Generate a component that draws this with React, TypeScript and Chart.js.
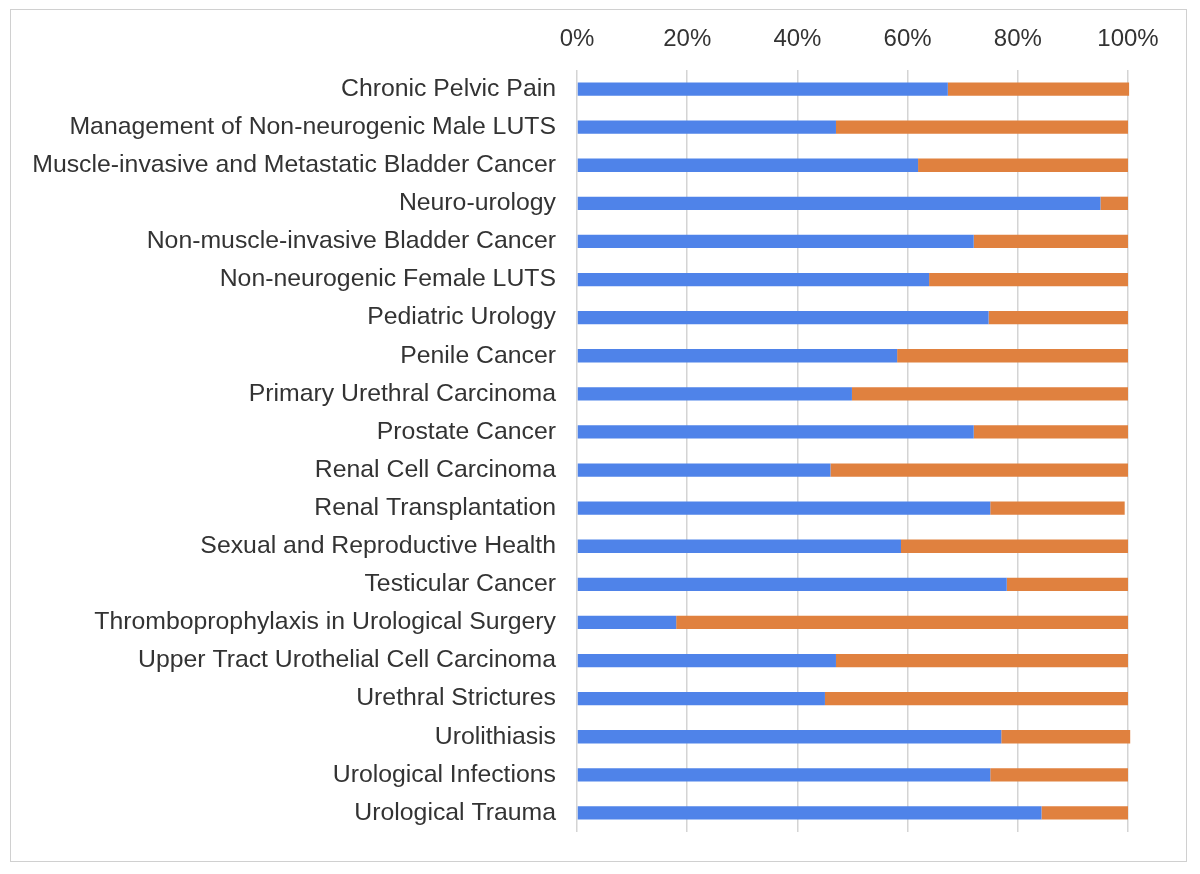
import React, { useEffect, useRef } from "react";
import { Chart, registerables } from "chart.js";

Chart.register(...registerables);

const categories = [
  "Chronic Pelvic Pain",
  "Management of Non-neurogenic Male LUTS",
  "Muscle-invasive and Metastatic Bladder Cancer",
  "Neuro-urology",
  "Non-muscle-invasive Bladder Cancer",
  "Non-neurogenic Female LUTS",
  "Pediatric Urology",
  "Penile Cancer",
  "Primary Urethral Carcinoma",
  "Prostate Cancer",
  "Renal Cell Carcinoma",
  "Renal Transplantation",
  "Sexual and Reproductive Health",
  "Testicular Cancer",
  "Thromboprophylaxis in Urological Surgery",
  "Upper Tract Urothelial Cell Carcinoma",
  "Urethral Strictures",
  "Urolithiasis",
  "Urological Infections",
  "Urological Trauma",
];

const blueValues = [67.3, 47, 61.9, 95, 72, 63.9, 74.7, 58.1, 49.9, 72, 46, 75, 58.8, 78, 18, 47, 45, 77, 75, 84.3];
const orangeValues = [32.9, 53, 38.1, 5, 28, 36.1, 25.3, 41.9, 50.1, 28, 54, 24.4, 41.2, 22, 82, 53, 55, 23.4, 25, 15.7];

const tickLabelsPct = ["0%", "20%", "40%", "60%", "80%", "100%"];

const BLUE = "#4f83e9";
const ORANGE = "#e0813f";
const TEXT = "#333333";
const FONT = "'Liberation Sans', Arial, sans-serif";

export default function App() {
  const ref = useRef<HTMLCanvasElement | null>(null);

  useEffect(() => {
    if (!ref.current) return;
    const chart = new Chart(ref.current, {
      type: "bar",
      data: {
        labels: categories,
        datasets: [
          {
            label: "A",
            data: blueValues,
            backgroundColor: BLUE,
            barPercentage: 0.35,
            categoryPercentage: 1,
            clip: false as any,
          },
          {
            label: "B",
            data: orangeValues,
            backgroundColor: ORANGE,
            barPercentage: 0.35,
            categoryPercentage: 1,
            clip: false as any,
          },
        ],
      },
      options: {
        indexAxis: "y",
        responsive: false,
        animation: false,
        devicePixelRatio: 1,
        layout: { padding: { left: 0, right: 72, top: 0, bottom: 42 } },
        plugins: { legend: { display: false }, tooltip: { enabled: false } },
        scales: {
          x: {
            position: "top",
            stacked: true,
            min: 0,
            max: 100,
            border: { display: false },
            grid: { color: "#d4d4d4", lineWidth: 1.5, drawTicks: false },
            ticks: {
              stepSize: 20,
              padding: 16,
              color: TEXT,
              font: { family: FONT, size: 24 },
              callback: (v: any) => tickLabelsPct[Math.round(Number(v) / 20)] ?? "",
            },
            afterFit: (s: any) => {
              s.height = 70;
            },
          },
          y: {
            stacked: true,
            border: { display: false },
            grid: { display: false, drawTicks: false },
            ticks: {
              padding: 21,
              color: TEXT,
              font: { family: FONT, size: 24.8 },
            },
            afterFit: (s: any) => {
              s.width = 577;
            },
          },
        },
      },
    });
    return () => chart.destroy();
  }, []);

  return (
    <div style={{ position: "absolute", left: 0, top: 0, width: 1200, height: 874, background: "#fff" }}>
      <div
        style={{
          position: "absolute",
          left: 10,
          top: 9,
          width: 1177,
          height: 853,
          border: "1px solid #d0d0d0",
          boxSizing: "border-box",
        }}
      />
      <canvas ref={ref} width={1200} height={874} style={{ position: "absolute", left: 0, top: 0 }} />
    </div>
  );
}
